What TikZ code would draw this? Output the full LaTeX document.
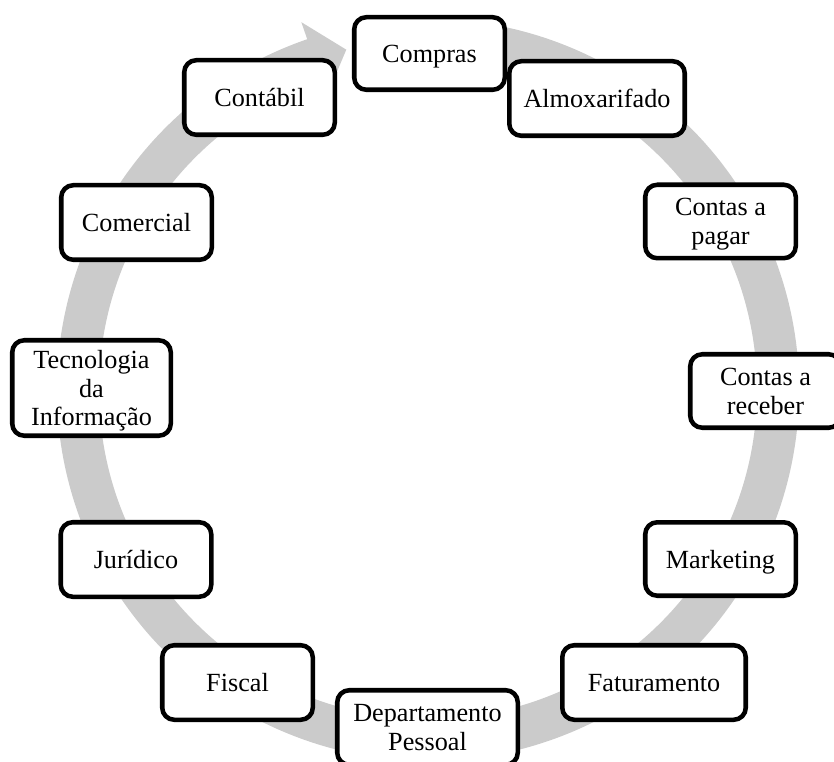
\documentclass[tikz,border=0pt]{standalone}
\usepackage{fontspec}
\setmainfont{Liberation Serif}
\usetikzlibrary{calc}
\definecolor{ringgray}{RGB}{203,203,203}
\tikzset{
  box/.style={draw=black, line width=3.4pt, rounded corners=9pt, fill=white,
    align=center, inner sep=0pt, minimum width=112.9pt, minimum height=55.1pt,
    text depth=0pt, font=\fontsize{19.65pt}{21.5pt}\selectfont},
}
\begin{document}
\begin{tikzpicture}[x=0.75pt,y=0.75pt]
\useasboundingbox (0,0) rectangle (834,-762);
\coordinate (C) at (428,-390);
% ring arrow
\fill[ringgray]
  ($(C)+(109:278.25pt)$) arc[start angle=109, end angle=455, radius=278.25pt]
  -- ($(C)+(455:246.75pt)$) arc[start angle=455, end angle=109, radius=246.75pt]
  -- ($(C)+(109:233.25pt)$) -- ($(C)+(103.5:262.5pt)$) -- ($(C)+(109:291.75pt)$) -- cycle;
% boxes
\node[box, minimum height=54.4pt] (compras) at (429.5,-53.5) {Compras};
\node[box, minimum width=131.6pt, minimum height=55.9pt] (almox) at (597,-98.5) {Almoxarifado};
\node[box] (pagar) at (720.5,-221.5) {Contas a\\pagar};
\node[box] (receber) at (765.5,-391) {Contas a\\receber};
\node[box] (marketing) at (720.5,-559) {Marketing};
\node[box, minimum width=137.6pt, minimum height=55.9pt] (fatur) at (654,-682.5) {Faturamento};
\node[box, minimum width=135.4pt, minimum height=55.9pt] (dept) at (427.5,-727.5) {Departamento\\Pessoal};
\node[box, minimum height=55.9pt] (fiscal) at (237.5,-682.5) {Fiscal};
\node[box, minimum height=55.9pt] (jur) at (136,-559.5) {Jurídico};
\node[box, minimum width=118.9pt, minimum height=71.6pt] (ti) at (91.5,-388) {Tecnologia\\da\\Informação};
\node[box, minimum height=55.9pt] (comercial) at (136.5,-222.5) {Comercial};
\node[box, minimum height=55.9pt] (contabil) at (259.5,-97.5) {Contábil};
\end{tikzpicture}
\end{document}
